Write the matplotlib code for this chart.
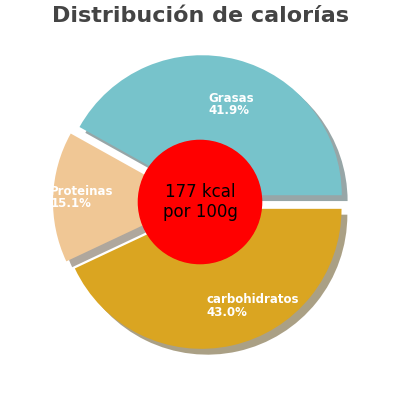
import numpy as np
import matplotlib.pyplot as plt

labels = ["Grasas", "Proteinas", "carbohidratos"]
values = [41.9, 15.1, 43.0]
colors = ["#77c3cb", "#f0c795", "#daa521"]
center_text = "177 kcal\npor 100g"

fig = plt.figure(figsize=(4, 4), dpi=100)
ax = fig.add_axes([0.115, 0.11, 0.77, 0.77])
wedges, _ = ax.pie(values, colors=colors, startangle=0, counterclock=True,
                   explode=[0.05] * 3, shadow={'ox': 0.03, 'oy': -0.03, 'shade': 0.6},
                   wedgeprops=dict(linewidth=0))
ax.add_patch(plt.Circle((0, 0), 0.44, color="red", zorder=5))
ax.text(0, 0, center_text, ha="center", va="center", fontsize=12, zorder=6)

# label placement: angle at slice middle, radius per slice
radii = [0.72, 0.95, 0.76]
start = 0
for lab, v, r in zip(labels, values, radii):
    mid = np.deg2rad(start + v * 3.6 / 2)
    start += v * 3.6
    x, y = r * np.cos(mid), r * np.sin(mid)
    ax.text(x - 0.12, y, f"{lab}\n{v:.1f}%", color="white", fontsize=8.5,
            fontweight="bold", ha="left", va="center", linespacing=0.95, zorder=6)

ax.set_xlim(-1.1, 1.1)
ax.set_ylim(-1.1, 1.1)
ax.set_aspect("equal")
fig.suptitle("Distribución de calorías", fontsize=16, fontweight="bold",
             color="#444444", y=0.985)
fig.savefig("out.png")
